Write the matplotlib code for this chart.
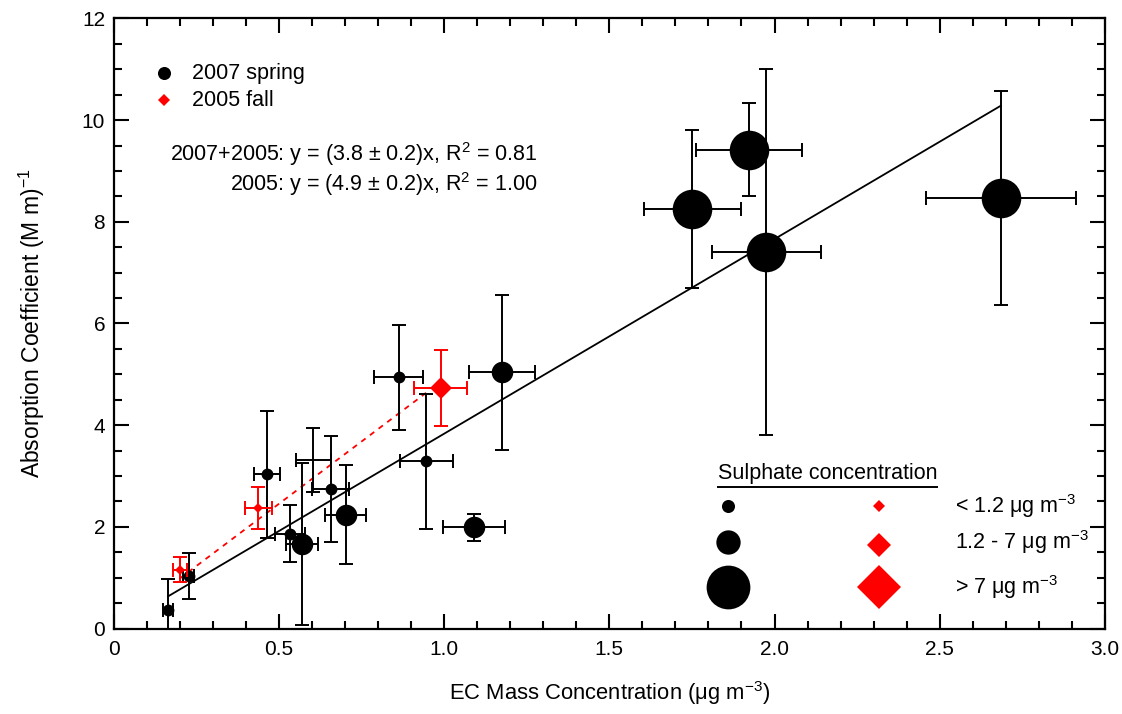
import matplotlib
matplotlib.use("Agg")
import matplotlib.pyplot as plt
from matplotlib.lines import Line2D
from matplotlib.ticker import MultipleLocator

plt.rcParams['font.family'] = ['Liberation Sans', 'DejaVu Sans']
plt.rcParams['mathtext.default'] = 'regular'

# 2007 spring (black circles)
spring_x = [0.165, 0.227, 0.465, 0.533, 0.571, 0.605, 0.657, 0.702, 0.863, 0.947,
            1.092, 1.176, 1.751, 1.922, 1.975, 2.685]
spring_y = [0.36, 1.04, 3.03, 1.86, 1.66, 3.32, 2.74, 2.24, 4.94, 3.29,
            1.99, 5.04, 8.25, 9.42, 7.40, 8.47]
spring_xerr = [0.015, 0.018, 0.039, 0.045, 0.048, 0.052, 0.057, 0.061, 0.074, 0.079,
               0.094, 0.100, 0.147, 0.160, 0.165, 0.226]
spring_yerr = [0.62, 0.45, 1.25, 0.56, 1.60, 0.63, 1.04, 0.98, 1.03, 1.33,
               0.26, 1.52, 1.55, 0.91, 3.60, 2.10]
spring_sulph = ['low', 'low', 'low', 'low', 'mid', 'none', 'low', 'mid', 'low', 'low',
                'mid', 'mid', 'high', 'high', 'high', 'high']

# 2005 fall (red diamonds)
fall_x = [0.200, 0.438, 0.990]
fall_y = [1.16, 2.37, 4.73]
fall_xerr = [0.021, 0.041, 0.080]
fall_yerr = [0.24, 0.41, 0.74]
fall_sulph = ['low', 'low', 'mid']

# fits
slope_all = 3.83
slope_2005 = 4.9
fit_all_range = [0.165, 2.685]
fit_2005_range = [0.20, 0.95]

sulph_labels = ['< 1.2 \u03bcg m$^{-3}$', '1.2 - 7 \u03bcg m$^{-3}$', '> 7 \u03bcg m$^{-3}$']
circle_ms = {'none': 0, 'low': 8.5, 'mid': 15.5, 'high': 28.5}
diamond_ms = {'none': 0, 'low': 4.8, 'mid': 10.7, 'high': 21}
legend_circle_ms = [9.4, 17.5, 31.5]
legend_diamond_ms = [6.2, 12.2, 22]

fig = plt.figure(figsize=(11.22, 7.14), dpi=100)
W, H = 1122, 714
x0, x1, ytop, ybot = 113.5, 1105, 18.4, 628.5
ax = fig.add_axes([x0 / W, (H - ybot) / H, (x1 - x0) / W, (ybot - ytop) / H])

def px(x, y):
    # figure pixel -> axes fraction
    return (x - x0) / (x1 - x0), (ybot - y) / (ybot - ytop)

err_kw = dict(fmt='none', capsize=5, elinewidth=1.4, capthick=1.4)

# fit lines
ax.plot(fit_all_range, [slope_all * v for v in fit_all_range], color='black', lw=1.3, zorder=2)
ax.plot(fit_2005_range, [slope_2005 * v for v in fit_2005_range], color='red', lw=1.3,
        linestyle=(0, (3, 3)), zorder=2)

ax.errorbar(spring_x, spring_y, xerr=spring_xerr, yerr=spring_yerr, ecolor='black', zorder=3, **err_kw)
for x, y, s in zip(spring_x, spring_y, spring_sulph):
    if circle_ms[s] > 0:
        ax.plot(x, y, 'o', color='black', markersize=circle_ms[s], markeredgewidth=0, zorder=4)

ax.errorbar(fall_x, fall_y, xerr=fall_xerr, yerr=fall_yerr, ecolor='red', zorder=5, **err_kw)
for x, y, s in zip(fall_x, fall_y, fall_sulph):
    ax.plot(x, y, 'D', color='red', markersize=diamond_ms[s], markeredgewidth=0, zorder=6)

ax.set_xlim(0, 3.0)
ax.set_ylim(0, 12)
ax.xaxis.set_minor_locator(MultipleLocator(0.1))
ax.yaxis.set_major_locator(MultipleLocator(2))
ax.yaxis.set_minor_locator(MultipleLocator(0.5))
ax.set_xticks([0, 0.5, 1.0, 1.5, 2.0, 2.5, 3.0])
ax.set_xticklabels(['0', '0.5', '1.0', '1.5', '2.0', '2.5', '3.0'])
ax.tick_params(which='both', direction='in', top=True, right=True, width=1.5,
               labelsize=15, colors='black')
ax.tick_params(axis='x', which='major', length=11, pad=8)
ax.tick_params(axis='y', which='major', length=11, pad=6)
ax.tick_params(which='minor', length=6)
for sp in ax.spines.values():
    sp.set_linewidth(1.6)

ax.set_xlabel('EC Mass Concentration (\u03bcg m$^{-3}$)', fontsize=15.8, labelpad=15)
ax.set_ylabel('Absorption Coefficient (M m)$^{-1}$', fontsize=16.5, labelpad=25)

# season legend (top-left)
fs = 15.5
for (my, mk, col, ms, lab) in [(73, 'o', 'black', 9.4, '2007 spring'),
                               (100, 'D', 'red', 6.2, '2005 fall')]:
    mx, myf = px(163.5, my)
    ax.plot([mx], [myf], marker=mk, color=col, markersize=ms, markeredgewidth=0,
            transform=ax.transAxes, clip_on=False)
    tx, ty = px(192, my)
    ax.text(tx, ty, lab, transform=ax.transAxes, fontsize=fs, va='center', ha='left')

# fit equations
tx, ty = px(538, 154)
ax.text(tx, ty, '2007+2005: y = (3.8 \u00b1 0.2)x, R$^2$ = 0.81', transform=ax.transAxes,
        fontsize=fs, ha='right', va='center')
tx, ty = px(538, 184)
ax.text(tx, ty, '2005: y = (4.9 \u00b1 0.2)x, R$^2$ = 1.00', transform=ax.transAxes,
        fontsize=fs, ha='right', va='center')

# sulphate legend
tx, ty = px(718, 473)
title = ax.text(tx, ty, 'Sulphate concentration', transform=ax.transAxes, fontsize=fs,
                ha='left', va='center')
fig.canvas.draw()
bb = title.get_window_extent()
ux0, uy = fig.transFigure.inverted().transform((bb.x0, bb.y0 - 3))
ux1, _ = fig.transFigure.inverted().transform((bb.x1, bb.y0 - 3))
fig.add_artist(Line2D([ux0, ux1], [uy, uy], color='black', lw=1.4))

row_y = [506, 542, 587]
for i, ry in enumerate(row_y):
    mx, myf = px(727.5, ry)
    ax.plot([mx], [myf], marker='o', color='black', markersize=legend_circle_ms[i],
            markeredgewidth=0, transform=ax.transAxes, clip_on=False)
    mx, myf = px(879, ry + (3 if i == 1 else 0))
    ax.plot([mx], [myf], marker='D', color='red', markersize=legend_diamond_ms[i],
            markeredgewidth=0, transform=ax.transAxes, clip_on=False)
    tx, ty = px(955, ry)
    ax.text(tx, ty, sulph_labels[i], transform=ax.transAxes, fontsize=fs,
            ha='left', va='center')

fig.savefig('out.png', dpi=100)
